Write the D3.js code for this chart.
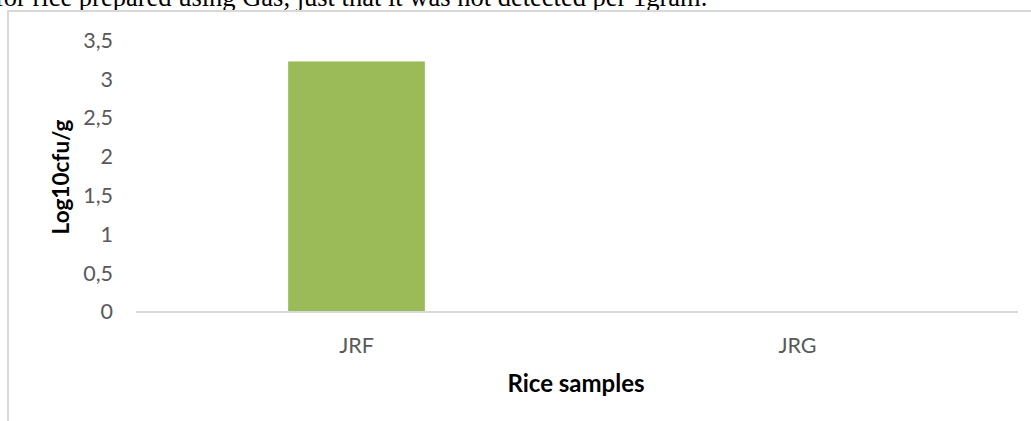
<!DOCTYPE html>
<html><head><meta charset="utf-8">
<script src="https://cdn.jsdelivr.net/npm/d3@7"></script>
<style>html,body{margin:0;padding:0;background:#fff;overflow:hidden}</style>
</head><body>
<svg id="c" width="1031" height="421"></svg>
<script>
const categories = ["JRF", "JRG"];
const values = [3.23, 0];
const yTicks = [0, 0.5, 1, 1.5, 2, 2.5, 3, 3.5];
const yTickLabels = ["0", "0,5", "1", "1,5", "2", "2,5", "3", "3,5"];
const yTitle = "Log10cfu/g";
const xTitle = "Rice samples";
const captionText = "for rice prepared using Gas, just that it was not detected per 1gram.";

const svg = d3.select("#c");
const W = 1031, H = 421;
const plot = {left: 136, right: 1018, top: 40.5, bottom: 312};

// caption from surrounding document (cropped at the top edge)
svg.append("text").attr("x", -5).attr("y", 6)
  .attr("font-family", "Liberation Serif").attr("font-size", 26.5).attr("fill", "#000")
  .attr("textLength", null)
  .text(captionText);

// chart frame
svg.append("line").attr("x1", 8).attr("x2", W).attr("y1", 11).attr("y2", 11)
  .attr("stroke", "#d9d9d9").attr("stroke-width", 2);
svg.append("line").attr("x1", 8).attr("x2", 8).attr("y1", 10).attr("y2", H)
  .attr("stroke", "#d9d9d9").attr("stroke-width", 2);

const x = d3.scaleBand().domain(categories).range([plot.left, plot.right]).padding(0);
const y = d3.scaleLinear().domain([0, 3.5]).range([plot.bottom, plot.top]);
const barW = x.bandwidth() * 0.31;

svg.append("g").selectAll("rect").data(categories).join("rect")
  .attr("x", d => x(d) + x.bandwidth() / 2 - barW / 2)
  .attr("y", (d, i) => y(values[i]))
  .attr("width", barW)
  .attr("height", (d, i) => y(0) - y(values[i]))
  .attr("fill", "#9bbb59");

const font = "Lato, 'Open Sans', sans-serif";

const yAxis = d3.axisLeft(y).tickValues(yTicks)
  .tickFormat((d, i) => yTickLabels[i]).tickSize(0).tickPadding(0);
const gy = svg.append("g").attr("transform", `translate(113,0)`).call(yAxis);
gy.select(".domain").remove();
gy.selectAll("text").attr("font-family", font).attr("font-size", 21.5).attr("fill", "#595959");

const xAxis = d3.axisBottom(x).tickSize(0).tickPadding(0);
const gx = svg.append("g").attr("transform", `translate(0,${plot.bottom})`).call(xAxis);
gx.select(".domain").attr("stroke", "#d9d9d9").attr("stroke-width", 2)
  .attr("d", `M${plot.left},0H${plot.right}`);
gx.selectAll("text").attr("font-family", font).attr("font-size", 21.5).attr("fill", "#595959")
  .attr("dy", null).attr("y", 41);

svg.append("text")
  .attr("transform", "translate(69,177) rotate(-90)")
  .attr("text-anchor", "middle")
  .attr("font-family", font).attr("font-weight", "bold").attr("font-size", 22.5).attr("fill", "#000")
  .text(yTitle);

svg.append("text").attr("x", 576).attr("y", 392).attr("text-anchor", "middle")
  .attr("font-family", font).attr("font-weight", "bold").attr("font-size", 24).attr("fill", "#000")
  .text(xTitle);
</script>
</body></html>
